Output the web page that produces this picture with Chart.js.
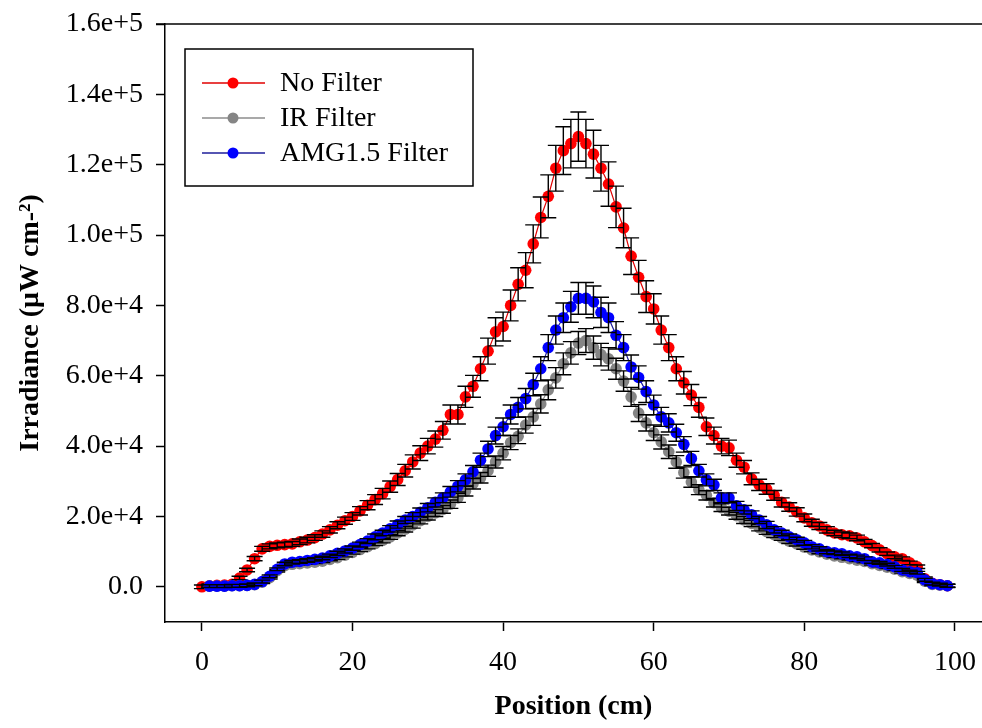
<!DOCTYPE html>
<html>
<head>
<meta charset="utf-8">
<script src="https://cdn.jsdelivr.net/npm/chart.js@4/dist/chart.umd.min.js"></script>
<style>
  html, body { margin: 0; padding: 0; background: #fff; }
  canvas { display: block; }
</style>
</head>
<body>
<canvas id="irr_chart" width="982" height="728"></canvas>
<script>
(function () {
    'use strict';

    // Data (position in cm, irradiance in uW cm-2)
    var positions = [
        0, 1, 2, 3, 4, 5, 6, 7, 8, 9, 10, 11, 12, 13, 14, 15, 16, 17, 18, 19,
        20, 21, 22, 23, 24, 25, 26, 27, 28, 29, 30, 31, 32, 33, 34, 35, 36, 37, 38, 39,
        40, 41, 42, 43, 44, 45, 46, 47, 48, 49, 50, 51, 52, 53, 54, 55, 56, 57, 58, 59,
        60, 61, 62, 63, 64, 65, 66, 67, 68, 69, 70, 71, 72, 73, 74, 75, 76, 77, 78, 79,
        80, 81, 82, 83, 84, 85, 86, 87, 88, 89, 90, 91, 92, 93, 94, 95, 96, 97, 98, 99
    ];

    var noFilter = [
        0, 300, 400, 500, 700, 2500, 4800, 8000, 10800, 11500,
        11800, 12000, 12200, 12800, 13300, 14000, 15000, 16200, 17500, 18800,
        20000, 21600, 23200, 24800, 26500, 28500, 30500, 33000, 35500, 38000,
        40000, 42000, 44500, 49000, 49000, 54000, 57000, 62000, 67000, 72500,
        74000, 80000, 86000, 90000, 97500, 105000, 111000, 119000, 124000, 126000,
        128000, 126000, 123000, 119000, 114500, 108000, 102000, 94000, 88000, 82500,
        79000, 73000, 68000, 62000, 58000, 54500, 51000, 45500, 43000, 40000,
        39500, 36000, 34000, 30700, 29000, 27800, 26000, 24000, 22700, 21300,
        19600, 18200, 17300, 16200, 15300, 14800, 14500, 13900, 12800, 11700,
        10500, 9400, 8500, 8000, 6800, 5700, 2300, 1000, 600, 300
    ];
    var noFilterErr = [
        500, 500, 500, 500, 500, 500, 500, 600, 700, 700,
        700, 700, 700, 800, 800, 800, 900, 900, 1000, 1000,
        1100, 1200, 1300, 1400, 1500, 1600, 1700, 1800, 2000, 2100,
        2200, 2300, 2500, 2700, 2700, 3000, 3100, 3400, 3700, 4000,
        4100, 4400, 4700, 5000, 5400, 5800, 6100, 6500, 6800, 6900,
        7000, 6900, 6800, 6500, 6300, 5900, 5600, 5200, 4800, 4500,
        4300, 4000, 3700, 3400, 3200, 3000, 2800, 2500, 2400, 2200,
        2200, 2000, 1900, 1700, 1600, 1500, 1400, 1300, 1200, 1200,
        1100, 1000, 1000, 900, 800, 800, 800, 800, 700, 600,
        600, 500, 500, 500, 500, 500, 500, 500, 500, 500
    ];

    var irFilter = [
        null, 200, 200, 200, 300, 300, 400, 600, 1300, 2600,
        4600, 6000, 6400, 6600, 6800, 7000, 7300, 7800, 8300, 9000,
        9800, 10600, 11400, 12300, 13200, 14200, 15300, 16400, 17600, 18800,
        20000, 21000, 22000, 23500, 25300, 27200, 29300, 31000, 33000, 35500,
        38000, 41000, 42800, 46000, 48300, 52000, 56000, 59400, 63400, 66500,
        69300, 70000, 68000, 66000, 64800, 62000, 58500, 54000, 49400, 46600,
        43800, 41200, 38400, 35500, 32500, 29800, 27600, 26000, 23900, 22500,
        21500, 20200, 19000, 18000, 16800, 15700, 14800, 13900, 13000, 12200,
        11300, 10500, 9900, 9300, 8800, 8400, 8000, 7600, 7200, 6600,
        6100, 5600, 5000, 4300, 3800, 3300, 1600, 700, 500, 300
    ];
    var irFilterErr = [
        0, 400, 400, 400, 400, 400, 400, 400, 400, 400,
        400, 400, 400, 400, 400, 400, 400, 400, 500, 500,
        500, 600, 600, 600, 700, 700, 800, 800, 900, 900,
        1000, 1000, 1100, 1200, 1300, 1400, 1500, 1500, 1600, 1700,
        1900, 2000, 2100, 2300, 2400, 2600, 2800, 2900, 3100, 3200,
        3300, 3400, 3300, 3200, 3200, 3000, 2900, 2700, 2400, 2300,
        2200, 2000, 1900, 1800, 1600, 1500, 1400, 1300, 1200, 1100,
        1100, 1000, 1000, 900, 900, 800, 800, 700, 700, 600,
        600, 500, 500, 500, 500, 400, 400, 400, 400, 400,
        400, 400, 400, 400, 400, 400, 400, 400, 400, 400
    ];

    var amgFilter = [
        null, 200, 200, 200, 300, 300, 400, 700, 1500, 3000,
        5000, 6500, 7000, 7200, 7500, 7800, 8200, 8800, 9500, 10200,
        11000, 12000, 13000, 14200, 15300, 16500, 17700, 19000, 20000, 21200,
        22500, 24000, 25300, 27000, 28600, 30400, 32700, 36000, 39200, 43000,
        45500, 49000, 51000, 53500, 57500, 62000, 68000, 73000, 76500, 79600,
        82000, 82000, 81000, 78000, 76500, 71500, 68000, 62500, 59500, 55500,
        51700, 48300, 46600, 43800, 40500, 36500, 33000, 30400, 29000, 25300,
        25300, 23000, 21900, 20500, 19000, 17600, 16200, 15300, 14200, 13400,
        12500, 11400, 10800, 10000, 9700, 9400, 8800, 8500, 8000, 7100,
        6800, 6300, 5700, 4800, 4300, 4000, 2000, 900, 600, 300
    ];
    var amgFilterErr = [
        0, 400, 400, 400, 400, 400, 400, 400, 400, 400,
        400, 500, 500, 500, 500, 500, 500, 500, 600, 600,
        600, 700, 700, 800, 800, 900, 1000, 1000, 1100, 1200,
        1200, 1300, 1400, 1500, 1600, 1700, 1800, 2000, 2200, 2400,
        2500, 2700, 2800, 2900, 3200, 3400, 3700, 4000, 4200, 4400,
        4500, 4500, 4500, 4300, 4200, 3900, 3700, 3400, 3300, 3100,
        2800, 2700, 2600, 2400, 2200, 2000, 1800, 1700, 1600, 1400,
        1400, 1300, 1200, 1100, 1000, 1000, 900, 800, 800, 700,
        700, 600, 600, 600, 500, 500, 500, 500, 500, 400,
        400, 400, 400, 400, 400, 400, 400, 400, 400, 400
    ];

    var xTickValues = [0, 20, 40, 60, 80, 100];
    var yTickValues = [0, 20000, 40000, 60000, 80000, 100000, 120000, 140000, 160000];
    var yTickLabels = ['0.0', '2.0e+4', '4.0e+4', '6.0e+4', '8.0e+4', '1.0e+5', '1.2e+5', '1.4e+5', '1.6e+5'];

    var SERIF = "'Liberation Serif', 'Times New Roman', serif";
    var FONT_PX = 28;

    function toPoints(values) {
        var out = [];
        for (var i = 0; i < positions.length; i++) {
            out.push({ x: positions[i], y: values[i] });
        }
        return out;
    }

    // Error bars drawn right after each dataset so later series cover them
    var errorBars = {
        id: 'errorBars',
        afterDatasetDraw: function (chart, args) {
            var ds = chart.data.datasets[args.index];
            if (!ds.errors) return;
            var ctx = chart.ctx;
            var yScale = chart.scales.y;
            var area = chart.chartArea;
            ctx.save();
            ctx.beginPath();
            ctx.rect(area.left, area.top, area.right - area.left, area.bottom - area.top);
            ctx.clip();
            ctx.strokeStyle = '#000';
            ctx.lineWidth = 1.4;
            ctx.beginPath();
            args.meta.data.forEach(function (pt, i) {
                var v = ds.data[i].y;
                var e = ds.errors[i];
                if (v === null || !e) return;
                var top = yScale.getPixelForValue(v + e);
                var bot = yScale.getPixelForValue(v - e);
                ctx.moveTo(pt.x, top); ctx.lineTo(pt.x, bot);
                ctx.moveTo(pt.x - 8, top); ctx.lineTo(pt.x + 8, top);
                ctx.moveTo(pt.x - 8, bot); ctx.lineTo(pt.x + 8, bot);
            });
            ctx.stroke();
            ctx.restore();
        }
    };

    // Top frame line + boxed legend in the upper left
    var frameAndLegend = {
        id: 'frameAndLegend',
        afterDraw: function (chart) {
            var ctx = chart.ctx;
            var area = chart.chartArea;
            ctx.save();
            ctx.strokeStyle = '#000';
            ctx.lineWidth = 1.5;
            ctx.beginPath();
            ctx.moveTo(area.left - 9, area.top);
            ctx.lineTo(area.right, area.top);
            ctx.stroke();

            ctx.strokeRect(185, 49, 288, 137);
            ctx.font = FONT_PX + 'px ' + SERIF;
            ctx.textBaseline = 'middle';
            ctx.textAlign = 'left';
            var rows = [83, 118, 153];
            [0, 1, 2].forEach(function (idx, r) {
                var ds = chart.data.datasets[idx];
                var y = rows[r];
                ctx.strokeStyle = ds.borderColor;
                ctx.lineWidth = 1.3;
                ctx.beginPath();
                ctx.moveTo(202, y); ctx.lineTo(265, y);
                ctx.stroke();
                ctx.fillStyle = ds.pointBackgroundColor;
                ctx.beginPath();
                ctx.arc(233, y, 5.5, 0, Math.PI * 2);
                ctx.fill();
                ctx.fillStyle = '#000';
                ctx.fillText(ds.label, 280, y + 1);
            });
            ctx.restore();
        }
    };

    function series(label, values, errs, lineCol, dotCol, order) {
        return {
            label: label,
            data: toPoints(values),
            errors: errs,
            borderColor: lineCol,
            borderWidth: 1.2,
            pointBackgroundColor: dotCol,
            pointBorderColor: dotCol,
            pointBorderWidth: 0,
            pointRadius: 5.8,
            tension: 0,
            order: order
        };
    }

    function noPad(axis) {
        axis.paddingLeft = 0;
        axis.paddingRight = 0;
        axis.paddingTop = 0;
        axis.paddingBottom = 0;
    }

    var config = {
        type: 'line',
        data: {
            datasets: [
                series('No Filter', noFilter, noFilterErr, '#e00000', '#ff0000', 3),
                series('IR Filter', irFilter, irFilterErr, '#8c8c8c', '#858585', 2),
                series('AMG1.5 Filter', amgFilter, amgFilterErr, '#1e1e9a', '#0000ff', 1)
            ]
        },
        options: {
            responsive: false,
            animation: false,
            devicePixelRatio: 1,
            layout: { autoPadding: false, padding: { left: 0, right: 0, top: 24, bottom: 0 } },
            plugins: {
                legend: { display: false },
                tooltip: { enabled: false }
            },
            scales: {
                x: {
                    type: 'linear',
                    min: -4.9,
                    max: 103.6,
                    afterBuildTicks: function (axis) {
                        axis.ticks = xTickValues.map(function (v) { return { value: v }; });
                    },
                    afterFit: function (axis) { axis.height = 106; noPad(axis); },
                    border: { display: true, color: '#000', width: 1.5 },
                    grid: {
                        drawOnChartArea: false,
                        drawTicks: true,
                        tickLength: 9,
                        tickColor: '#000',
                        tickWidth: 1.5
                    },
                    ticks: {
                        color: '#000',
                        padding: 15,
                        maxRotation: 0,
                        font: { family: SERIF, size: FONT_PX }
                    },
                    title: {
                        display: true,
                        text: 'Position (cm)',
                        color: '#000',
                        padding: { top: 0, bottom: 4 },
                        font: { family: SERIF, size: FONT_PX, weight: 'bold' }
                    }
                },
                y: {
                    type: 'linear',
                    min: -10000,
                    max: 160000,
                    afterBuildTicks: function (axis) {
                        axis.ticks = yTickValues.map(function (v) { return { value: v }; });
                    },
                    afterFit: function (axis) { axis.width = 165; noPad(axis); },
                    border: { display: true, color: '#000', width: 1.5 },
                    grid: {
                        drawOnChartArea: false,
                        drawTicks: true,
                        tickLength: 9,
                        tickColor: '#000',
                        tickWidth: 1.5
                    },
                    ticks: {
                        color: '#000',
                        padding: 13,
                        font: { family: SERIF, size: FONT_PX },
                        callback: function (value) {
                            var k = yTickValues.indexOf(value);
                            return k >= 0 ? yTickLabels[k] : '';
                        }
                    },
                    title: {
                        display: true,
                        text: 'Irradiance (\u03bcW cm-\u00b2)',
                        color: '#000',
                        padding: { top: 14, bottom: 0 },
                        font: { family: SERIF, size: FONT_PX, weight: 'bold' }
                    }
                }
            }
        },
        plugins: [errorBars, frameAndLegend]
    };

    new Chart(document.getElementById('irr_chart'), config);
}());
</script>
</body>
</html>
